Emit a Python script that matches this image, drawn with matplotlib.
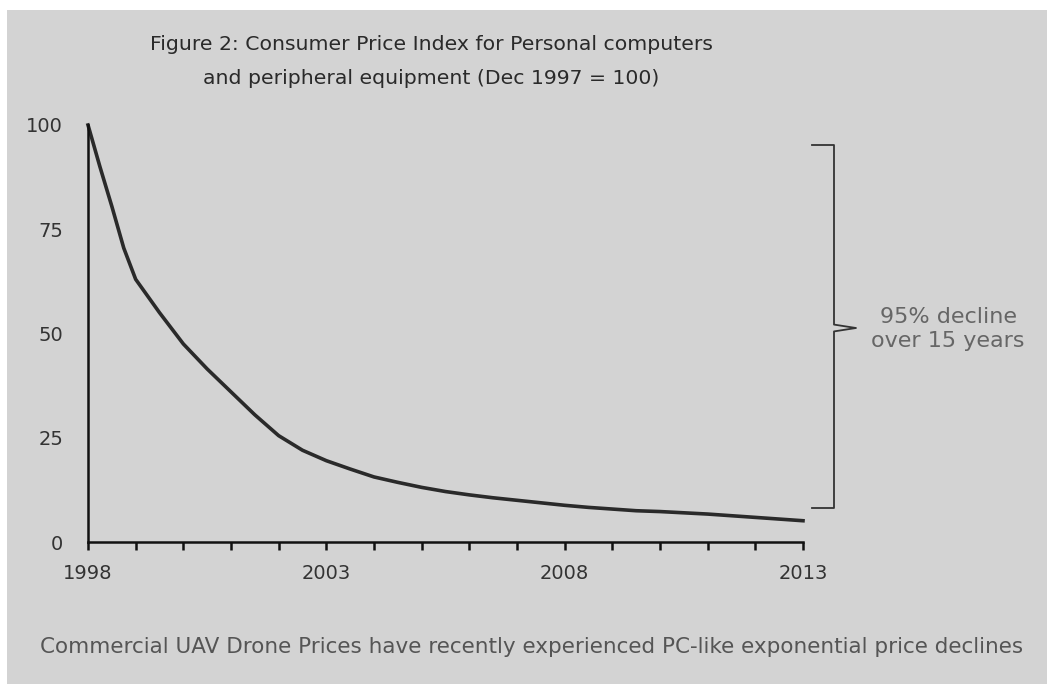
import matplotlib
matplotlib.use("Agg")
import matplotlib.pyplot as plt
from matplotlib.patches import Rectangle

# CPI for PCs and peripherals, Dec 1997 = 100
years = [1998.0, 1998.25, 1998.5, 1998.75, 1999.0, 1999.25, 1999.5, 2000.0, 2000.5,
         2001.0, 2001.5, 2002.0, 2002.5, 2003.0, 2003.5, 2004.0, 2004.5, 2005.0,
         2005.5, 2006.0, 2006.5, 2007.0, 2007.5, 2008.0, 2008.5, 2009.0, 2009.5,
         2010.0, 2010.5, 2011.0, 2011.5, 2012.0, 2012.5, 2013.0]
cpi = [100, 90, 80.5, 70.5, 63, 59, 55, 47.5, 41.5, 36, 30.5, 25.5, 22, 19.5, 17.5,
       15.6, 14.3, 13.1, 12.1, 11.3, 10.6, 10, 9.4, 8.8, 8.3, 7.9, 7.5, 7.3, 7.0,
       6.7, 6.3, 5.9, 5.5, 5.1]

major_years = [1998, 2003, 2008, 2013]
minor_years = list(range(1998, 2014))
y_ticks = [0, 25, 50, 75, 100]

title_lines = ["Figure 2: Consumer Price Index for Personal computers",
               "and peripheral equipment (Dec 1997 = 100)"]
note = "95% decline\nover 15 years"
footer = "Commercial UAV Drone Prices have recently experienced PC-like exponential price declines"

bg = "#d3d3d3"
W, H = 1047, 684

fig = plt.figure(figsize=(10.47, 6.84), dpi=100, facecolor="white")
fig.patches.append(Rectangle((7 / W, 0), 1, 1 - 10 / H, transform=fig.transFigure,
                             facecolor=bg, edgecolor="none", zorder=-10))

ax = fig.add_axes([88 / W, 1 - 542 / H, (803 - 88) / W, (542 - 125) / H])
ax.set_facecolor("none")
ax.plot(years, cpi, color="#2a2a2a", linewidth=2.6, clip_on=False)

ax.set_xlim(1998, 2013)
ax.set_ylim(0, 100)
for s in ["top", "right"]:
    ax.spines[s].set_visible(False)
for s in ["left", "bottom"]:
    ax.spines[s].set_linewidth(1.8)
    ax.spines[s].set_color("#111111")

ax.set_xticks(major_years)
ax.set_xticklabels([str(y) for y in major_years])
ax.set_xticks(minor_years, minor=True)
ax.tick_params(axis="x", which="both", direction="out", length=6, width=1.8,
               color="#111111", labelsize=14, labelcolor="#333333", pad=10)
ax.set_yticks(y_ticks)
ax.tick_params(axis="y", length=0, labelsize=14, labelcolor="#333333", pad=18)

# bracket on the right
bx, tip_y, top_y, bot_y = 834 / W, 1 - 328 / H, 1 - 145 / H, 1 - 508 / H
hook = 22 / W
fig.lines.append(plt.Line2D([bx - hook, bx, bx, bx + hook, bx, bx, bx - hook],
                            [top_y, top_y, tip_y + 0.005, tip_y, tip_y - 0.005, bot_y, bot_y],
                            transform=fig.transFigure, color="#333333", linewidth=1.3))
fig.text(948 / W, 1 - 329 / H, note, ha="center", va="center", fontsize=16,
         color="#666666", linespacing=1.2)

fig.text(431 / W, 1 - 45 / H, title_lines[0], ha="center", va="center",
         fontsize=14.7, color="#2a2a2a")
fig.text(431 / W, 1 - 78 / H, title_lines[1], ha="center", va="center",
         fontsize=14.7, color="#2a2a2a")

fig.text(532 / W, 1 - 647 / H, footer, ha="center", va="center", fontsize=15.5,
         color="#555555")

fig.savefig("out.png", dpi=100, facecolor="white")
